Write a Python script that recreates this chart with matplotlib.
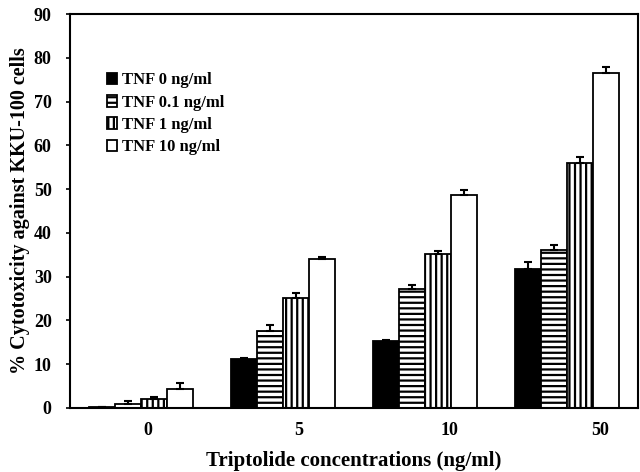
import numpy as np
import matplotlib.pyplot as plt

plt.rcParams['font.family'] = ['Liberation Serif', 'DejaVu Serif']
plt.rcParams['font.weight'] = 'bold'
plt.rcParams['hatch.linewidth'] = 1.6

# data
concentrations = ['0', '5', '10', '50']
series_names = ['TNF 0 ng/ml', 'TNF 0.1 ng/ml', 'TNF 1 ng/ml', 'TNF 10 ng/ml']
tnf_0 = [0.2, 11.2, 15.2, 31.8]
tnf_0_err = [0.0, 0.3, 0.4, 1.5]
tnf_01 = [0.8, 17.6, 27.2, 36.0]
tnf_01_err = [0.8, 1.4, 0.9, 1.3]
tnf_1 = [2.0, 25.2, 35.2, 55.9]
tnf_1_err = [0.5, 1.0, 0.7, 1.4]
tnf_10 = [4.4, 34.0, 48.6, 76.5]
tnf_10_err = [1.3, 0.4, 1.2, 1.5]

values = [tnf_0, tnf_01, tnf_1, tnf_10]
errors = [tnf_0_err, tnf_01_err, tnf_1_err, tnf_10_err]
faces = ['black', 'white', 'white', 'white']
hatches = [None, '---', '|||', None]

fig = plt.figure(figsize=(6.4, 4.72), dpi=100)
ax = fig.add_axes([0.109, 0.136, 0.888, 0.834])

x = np.arange(len(concentrations))
width = 0.182
for i, (vals, errs) in enumerate(zip(values, errors)):
    pos = x + (i - 1.5) * width
    ax.bar(pos, vals, width, color=faces[i], edgecolor='black', linewidth=1.3,
           hatch=hatches[i], label=series_names[i])
    ax.errorbar(pos, vals, yerr=[np.zeros(len(errs)), errs], fmt='none',
                ecolor='black', elinewidth=1.5, capsize=3, capthick=1.5)

ax.set_xlim(-0.5, 3.5)
ax.set_ylim(0, 90)
ax.set_yticks(range(0, 91, 10))
# tick labels drift a little right of the groups in the original
ax.set_xticks(x * 1.06 + 0.05)
ax.set_xticklabels(concentrations, fontsize=13, fontweight='bold')
ax.tick_params(axis='x', length=0, pad=10)
ax.tick_params(axis='y', direction='out', length=3, width=1.2, pad=10, labelsize=13)
for s in ax.spines.values():
    s.set_linewidth(1.5)

ax.set_ylabel('% Cytotoxicity against KKU-100 cells', fontsize=14.5, fontweight='bold', labelpad=3)
ax.set_xlabel('Triptolide concentrations (ng/ml)', fontsize=15, fontweight='bold', labelpad=9)

ax.legend(loc='upper left', bbox_to_anchor=(0.04, 0.89), frameon=False,
          handlelength=0.6, handleheight=0.7, handletextpad=0.3,
          labelspacing=0.38, prop={'size': 12, 'weight': 'bold'})

fig.savefig('out.png', dpi=100)
